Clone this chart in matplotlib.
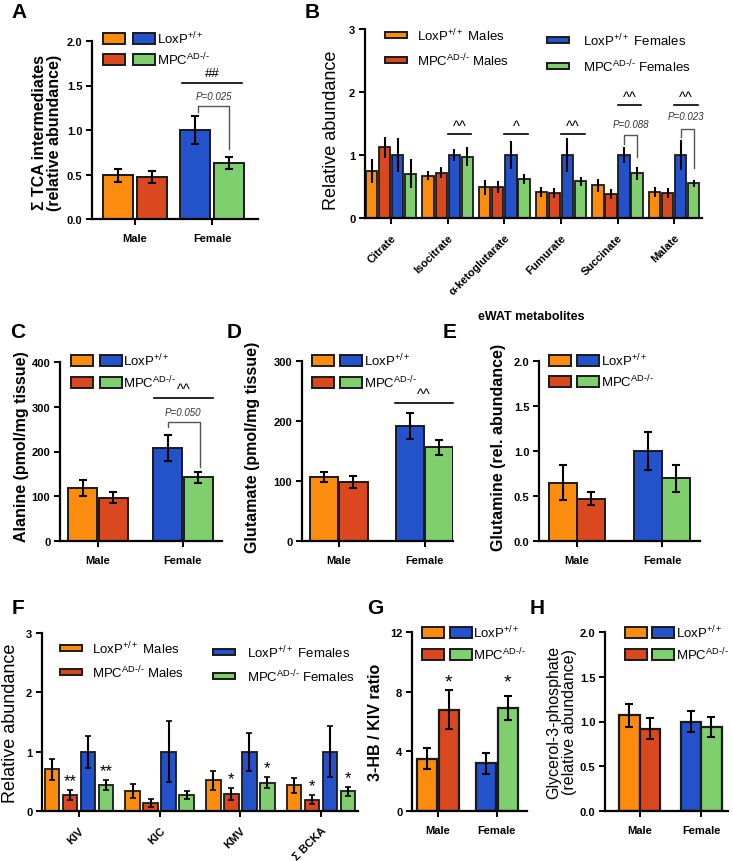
import numpy as np
import matplotlib

matplotlib.use('Agg')
import matplotlib.pyplot as plt
from matplotlib.patches import Rectangle

plt.rcParams['font.family'] = ['Liberation Sans', 'DejaVu Sans']
plt.rcParams['mathtext.fontset'] = 'custom'
plt.rcParams['mathtext.rm'] = 'Liberation Sans'
plt.rcParams['mathtext.it'] = 'Liberation Sans:italic'
plt.rcParams['mathtext.bf'] = 'Liberation Sans:bold'

ORANGE = '#FB8C0E'
RED = '#DA4820'
BLUE = '#2452CB'
GREEN = '#7FCF6E'
EDGE = '#1a1a1a'

LOX = r'LoxP$^{+/+}$'
MPC = r'MPC$^{\text{AD-/-}}$'

sexes = ['Male', 'Female']

# A - sum of TCA intermediates
a_lox = [0.49, 1.00]
a_lox_err = [0.07, 0.16]
a_mpc = [0.47, 0.63]
a_mpc_err = [0.07, 0.07]

# B - individual TCA metabolites
b_names = ['Citrate', 'Isocitrate', 'α-ketoglutarate', 'Fumurate', 'Succinate', 'Malate']
b_lox_m = [0.75, 0.67, 0.49, 0.41, 0.52, 0.41]
b_lox_m_err = [0.19, 0.07, 0.12, 0.08, 0.10, 0.08]
b_mpc_m = [1.12, 0.72, 0.49, 0.39, 0.38, 0.40]
b_mpc_m_err = [0.17, 0.09, 0.10, 0.08, 0.08, 0.08]
b_lox_f = [1.00, 1.00, 1.00, 1.00, 1.00, 1.00]
b_lox_f_err = [0.27, 0.10, 0.22, 0.27, 0.13, 0.24]
b_mpc_f = [0.70, 0.97, 0.62, 0.58, 0.71, 0.55]
b_mpc_f_err = [0.23, 0.15, 0.08, 0.07, 0.10, 0.06]

# C - alanine
c_lox = [119, 207]
c_lox_err = [18, 29]
c_mpc = [97, 142]
c_mpc_err = [13, 12]

# D - glutamate
d_lox = [107, 192]
d_lox_err = [8, 22]
d_mpc = [98, 156]
d_mpc_err = [10, 13]

# E - glutamine
e_lox = [0.65, 1.00]
e_lox_err = [0.19, 0.21]
e_mpc = [0.47, 0.70]
e_mpc_err = [0.07, 0.15]

# F - BCKAs
f_names = ['KIV', 'KIC', 'KMV', 'Σ BCKA']
f_lox_m = [0.70, 0.34, 0.52, 0.43]
f_lox_m_err = [0.17, 0.12, 0.16, 0.13]
f_mpc_m = [0.27, 0.14, 0.29, 0.19]
f_mpc_m_err = [0.09, 0.07, 0.10, 0.08]
f_lox_f = [1.00, 1.00, 1.00, 1.00]
f_lox_f_err = [0.27, 0.51, 0.32, 0.43]
f_mpc_f = [0.44, 0.27, 0.48, 0.33]
f_mpc_f_err = [0.08, 0.07, 0.09, 0.07]
f_stars_m = ['**', '', '*', '*']
f_stars_f = ['**', '', '*', '*']

# G - 3-HB / KIV
g_lox = [3.5, 3.2]
g_lox_err = [0.7, 0.7]
g_mpc = [6.8, 6.9]
g_mpc_err = [1.3, 0.8]

# H - glycerol-3-phosphate
h_lox = [1.07, 1.00]
h_lox_err = [0.13, 0.12]
h_mpc = [0.92, 0.94]
h_mpc_err = [0.12, 0.11]

W, H = 733, 862
fig = plt.figure(figsize=(W / 100, H / 100), dpi=100)


def mkax(l, t, r, b):
    return fig.add_axes([l / W, 1 - b / H, (r - l) / W, (b - t) / H])


def style(ax, xlim, ymax, yticks, fmt, xlabels, rot=0):
    for s in ['top', 'right']:
        ax.spines[s].set_visible(False)
    for s in ['left', 'bottom']:
        ax.spines[s].set_linewidth(1.6)
    ax.set_xlim(xlim)
    ax.set_ylim(0, ymax)
    ax.set_yticks(yticks)
    ax.set_yticklabels([fmt.format(v) for v in yticks])
    ax.set_xticks(np.arange(len(xlabels)))
    if rot:
        ax.set_xticklabels(xlabels, rotation=rot, ha='right', rotation_mode='anchor',
                           fontsize=8.5)
    else:
        ax.set_xticklabels(xlabels)
    ax.tick_params(width=1.4, length=4, labelsize=8, pad=3)
    ax.tick_params(axis='x', pad=6)
    for lab in ax.get_xticklabels() + ax.get_yticklabels():
        lab.set_fontweight('bold')


def ylab(ax, box, text, xpx, ypx, size=11.5, weight='bold'):
    l, t, r, b = box
    ax.set_ylabel(text, fontsize=size, fontweight=weight, linespacing=1.05)
    ax.yaxis.label.set_va('center')
    ax.yaxis.label.set_ha('center')
    ax.yaxis.set_label_coords((xpx - l) / (r - l), (b - ypx) / (b - t))


def two_group(ax, lox, lox_err, mpc, mpc_err, w, off, lw=1.4):
    x = np.arange(len(sexes))
    ekw = dict(elinewidth=1.5, capsize=3, capthick=1.5, ecolor='black')
    ax.bar(x - off, lox, w, yerr=lox_err, color=[ORANGE, BLUE], edgecolor=EDGE,
           linewidth=lw, error_kw=ekw)
    ax.bar(x + off, mpc, w, yerr=mpc_err, color=[RED, GREEN], edgecolor=EDGE,
           linewidth=lw, error_kw=ekw)


def four_group(ax, series, errs, w, step, cap):
    x = np.arange(len(series[0]))
    cols = [ORANGE, RED, BLUE, GREEN]
    ekw = dict(elinewidth=1.5, capsize=cap, capthick=1.2, ecolor='black')
    for i, (vals, err) in enumerate(zip(series, errs)):
        ax.bar(x + (i - 1.5) * step, vals, w, yerr=err, color=cols[i], edgecolor=EDGE,
               linewidth=1.3, error_kw=ekw)


def rect(x, y, c, pw=22, ph=11, lw=1.4):
    fig.add_artist(Rectangle((x / W, 1 - (y + ph / 2) / H), pw / W, ph / H,
                             transform=fig.transFigure, facecolor=c, edgecolor=EDGE,
                             linewidth=lw))


def leg2x2(xo, xb, xt, y1, y2, fs=9.5):
    rect(xo, y1, ORANGE)
    rect(xb, y1, BLUE)
    rect(xo, y2, RED)
    rect(xb, y2, GREEN)
    fig.text(xt / W, 1 - y1 / H, LOX, fontsize=fs, va='center', ha='left')
    fig.text(xt / W, 1 - y2 / H, MPC, fontsize=fs, va='center', ha='left')


def leg4(c1p, c1t, c1y, c2p, c2t, c2y, fs=9.5):
    items = [(c1p, c1t, c1y[0], ORANGE, LOX + ' Males'),
             (c1p, c1t, c1y[1], RED, MPC + ' Males'),
             (c2p, c2t, c2y[0], BLUE, LOX + ' Females'),
             (c2p, c2t, c2y[1], GREEN, MPC + ' Females')]
    for xp, xt, y, c, lab in items:
        rect(xp, y, c, pw=22, ph=6, lw=1.4)
        fig.text(xt / W, 1 - y / H, lab, fontsize=fs, va='center', ha='left')


def hline(ax, x1, x2, y, text, ty, fs=10.5):
    ax.plot([x1, x2], [y, y], color='black', lw=1.2, clip_on=False)
    ax.text((x1 + x2) / 2, ty, text, ha='center', va='center', fontsize=fs)


def bracket(ax, x1, x2, ytop, y1, y2, ptext, px, py, fs=7):
    ax.plot([x1, x1, x2, x2], [y1, ytop, ytop, y2], color='#555555', lw=1.0, clip_on=False)
    ax.text(px, py, ptext, ha='center', va='center', fontsize=fs, style='italic',
            color='#333333')


def letter(x, y, s):
    fig.text(x / W, 1 - y / H, s, fontsize=15, fontweight='bold', ha='center', va='center')


# ---- A ----
boxA = (92, 42, 258, 220)
axA = mkax(*boxA)
two_group(axA, a_lox, a_lox_err, a_mpc, a_mpc_err, 0.39, 0.22)
style(axA, (-0.558, 1.597), 2.0, [0, 0.5, 1.0, 1.5, 2.0], '{:.1f}', sexes)
ylab(axA, boxA, 'Σ TCA intermediates\n(relative abundance)', 47, 133)
hline(axA, 0.61, 1.39, 1.53, '##', 1.64, fs=9.5)
bracket(axA, 0.82, 1.22, 1.27, 1.2, 0.79, 'P=0.025', 1.03, 1.38)
leg2x2(103, 133, 157, 39, 60)

# ---- B ----
boxB = (365, 30, 702, 219)
axB = mkax(*boxB)
four_group(axB, [b_lox_m, b_mpc_m, b_lox_f, b_mpc_f],
           [b_lox_m_err, b_mpc_m_err, b_lox_f_err, b_mpc_f_err], 0.2, 0.23, 0)
style(axB, (-0.46, 5.49), 3, [0, 1, 2, 3], '{:d}', b_names, rot=45)
ylab(axB, boxB, 'Relative abundance', 332, 130, size=13, weight='normal')
for g, mark in [(1, '^^'), (2, '^'), (3, '^^')]:
    hline(axB, g + 0.0, g + 0.42, 1.33, mark, 1.46)
for g in [4, 5]:
    hline(axB, g + 0.0, g + 0.42, 1.79, '^^', 1.92)
bracket(axB, 4 + 0.115, 4 + 0.345, 1.32, 1.17, 0.97, 'P=0.088', 4 + 0.23, 1.5)
bracket(axB, 5 + 0.115, 5 + 0.345, 1.41, 1.28, 0.80, 'P=0.023', 5 + 0.21, 1.62)
leg4(385, 417, (36, 61), 547, 583, (41, 67))

# ---- C ----
boxC = (60, 363, 222, 542)
axC = mkax(*boxC)
two_group(axC, c_lox, c_lox_err, c_mpc, c_mpc_err, 0.34, 0.18)
style(axC, (-0.447, 1.46), 400, [0, 100, 200, 300, 400], '{:d}', sexes)
ylab(axC, boxC, 'Alanine (pmol/mg tissue)', 22, 447)
hline(axC, 1 - 0.34, 1 + 0.35, 319, '^^', 340)
bracket(axC, 1 - 0.18, 1 + 0.2, 266, 254, 165, 'P=0.050', 1.0, 288)
leg2x2(71, 100, 123, 361, 383)

# ---- D ----
boxD = (302, 362, 453, 542)
axD = mkax(*boxD)
two_group(axD, d_lox, d_lox_err, d_mpc, d_mpc_err, 0.33, 0.17)
style(axD, (-0.43, 1.33), 300, [0, 100, 200, 300], '{:d}', sexes)
ylab(axD, boxD, 'Glutamate (pmol/mg tissue)', 253, 447)
hline(axD, 1 - 0.35, 1 + 0.33, 230, '^^', 245)
leg2x2(312, 340, 364, 361, 383)

# ---- E ----
boxE = (539, 362, 700, 542)
axE = mkax(*boxE)
two_group(axE, e_lox, e_lox_err, e_mpc, e_mpc_err, 0.33, 0.17)
style(axE, (-0.447, 1.447), 2.0, [0, 0.5, 1.0, 1.5, 2.0], '{:.1f}', sexes)
ylab(axE, boxE, 'Glutamine (rel. abundance)', 498, 447)
leg2x2(549, 577, 601, 361, 382)
fig.text(531 / W, 1 - 317 / H, 'eWAT metabolites', fontsize=9, fontweight='bold',
         ha='center', va='center')

# ---- F ----
boxF = (42, 634, 358, 812)
axF = mkax(*boxF)
four_group(axF, [f_lox_m, f_mpc_m, f_lox_f, f_mpc_f],
           [f_lox_m_err, f_mpc_m_err, f_lox_f_err, f_mpc_f_err], 0.18, 0.223, 2)
style(axF, (-0.46, 3.46), 3, [0, 1, 2, 3], '{:d}', f_names, rot=45)
ylab(axF, boxF, 'Relative abundance', 11, 723, size=13, weight='normal')
for i in range(len(f_names)):
    if f_stars_m[i]:
        axF.text(i - 0.5 * 0.223, f_mpc_m[i] + f_mpc_m_err[i] + 0.03, f_stars_m[i],
                 ha='center', va='bottom', fontsize=12)
    if f_stars_f[i]:
        axF.text(i + 1.5 * 0.223, f_mpc_f[i] + f_mpc_f_err[i] + 0.03, f_stars_f[i],
                 ha='center', va='bottom', fontsize=12)
leg4(60, 92, (649, 673), 213, 247, (653, 677))

# ---- G ----
boxG = (412, 633, 527, 812)
axG = mkax(*boxG)
two_group(axG, g_lox, g_lox_err, g_mpc, g_mpc_err, 0.34, 0.18, lw=1.6)
style(axG, (-0.44, 1.51), 12, [0, 4, 8, 12], '{:d}', sexes)
ylab(axG, boxG, '3-HB / KIV ratio', 375, 722)
for i in range(len(sexes)):
    axG.text(i + 0.18, 8.1, '*', ha='center', va='bottom', fontsize=14)
leg2x2(422, 450, 473, 633, 655)

# ---- H ----
boxH = (605, 633, 728, 812)
axH = mkax(*boxH)
two_group(axH, h_lox, h_lox_err, h_mpc, h_mpc_err, 0.33, 0.17, lw=1.6)
style(axH, (-0.57, 1.44), 2.0, [0, 0.5, 1.0, 1.5, 2.0], '{:.1f}', sexes)
ylab(axH, boxH, 'Glycerol-3-phosphate\n(relative abundance)', 562, 722, size=11.5,
     weight='normal')
leg2x2(625, 652, 676, 633, 655)

for x, y, s in [(19, 13, 'A'), (312, 12, 'B'), (18, 333, 'C'), (234, 333, 'D'),
                (450, 333, 'E'), (18, 609, 'F'), (375, 609, 'G'), (537, 609, 'H')]:
    letter(x, y, s)

fig.savefig('out.png', dpi=100)
